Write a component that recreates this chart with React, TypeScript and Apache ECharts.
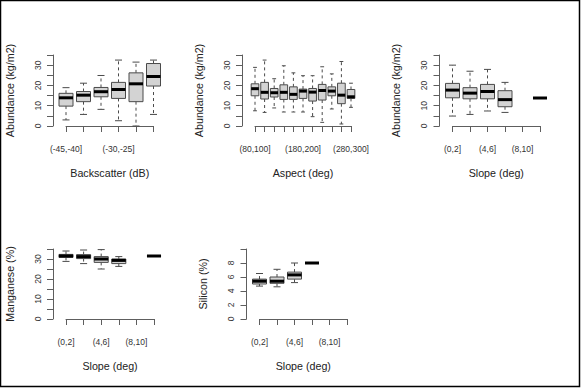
import React, { useEffect, useRef } from "react";
import * as echarts from "echarts";

// ---- Data (box stats: [lower whisker, Q1, median, Q3, upper whisker]) ----
const backscatterCats = ["(-45,-40]", "(-40,-35]", "(-35,-30]", "(-30,-25]", "(-25,-20]", "(-20,-15]"];
const backscatterStats = [
  [3.0, 9.8, 13.9, 16.1, 18.9],
  [5.7, 12.0, 15.2, 17.0, 21.1],
  [8.2, 14.4, 16.9, 19.0, 24.9],
  [2.6, 13.6, 18.0, 21.5, 32.5],
  [0.0, 12.0, 20.8, 26.2, 31.5],
  [5.7, 19.7, 24.4, 30.8, 32.5],
];
const backscatterShown = [0, 3];

const aspectCats = ["(80,100]", "(100,120]", "(120,140]", "(140,160]", "(160,180]", "(180,200]", "(200,220]", "(220,240]", "(240,260]", "(260,280]", "(280,300]"];
const aspectStats = [
  [7.5, 14.9, 18.4, 20.8, 28.9],
  [6.7, 13.3, 16.6, 21.5, 32.5],
  [8.9, 14.3, 16.4, 18.5, 23.3],
  [6.9, 13.1, 16.6, 20.3, 29.7],
  [6.9, 13.1, 15.6, 19.3, 26.2],
  [6.9, 13.6, 17.2, 18.2, 24.8],
  [4.6, 12.3, 16.7, 18.5, 24.8],
  [1.8, 12.8, 17.5, 20.5, 29.2],
  [8.4, 14.9, 17.2, 19.3, 25.7],
  [1.0, 11.0, 15.2, 21.1, 31.8],
  [9.2, 13.6, 14.4, 18.0, 21.1],
];
const aspectShown = [0, 5, 10];

const slopeCats = ["(0,2]", "(2,4]", "(4,6]", "(6,8]", "(8,10]", "(10,12]"];
const slopeShown = [0, 2, 4];
const slopeAbundanceStats = [
  [4.9, 13.9, 17.7, 21.0, 30.0],
  [5.7, 13.4, 16.2, 18.9, 27.0],
  [7.4, 13.4, 17.0, 20.5, 27.9],
  [6.7, 9.5, 13.0, 17.4, 21.5],
  null,
  [13.8, 13.8, 13.8, 13.8, 13.8],
];
const manganeseStats = [
  [28.8, 30.8, 31.5, 32.3, 34.0],
  [27.7, 30.2, 31.2, 32.2, 34.5],
  [25.0, 28.3, 30.0, 31.2, 34.7],
  [26.3, 27.7, 29.3, 30.0, 31.2],
  null,
  [31.5, 31.5, 31.5, 31.5, 31.5],
];
const siliconStats = [
  [4.7, 5.0, 5.4, 5.7, 6.5],
  [4.6, 5.1, 5.4, 6.0, 7.1],
  [5.2, 5.7, 6.3, 6.7, 8.0],
  [8.0, 8.0, 8.0, 8.0, 8.0],
  null,
  null,
];

const FONT = "Liberation Sans, Arial, sans-serif";
const AXIS_COLOR = "#5e5e5e";
const LABEL_COLOR = "#333";
const TITLE_COLOR = "#222";
const BOX_BORDER = "#4a4a4a";

type Panel = {
  cats: string[];
  stats: (number[] | null)[];
  shown: number[];
  xName: string;
  yName: string;
  yMax: number;
  yInterval: number;
  yLabelStep: number;
  grid: { left: number; top: number; width: number; height: number };
};

const panels: Panel[] = [
  { cats: backscatterCats, stats: backscatterStats, shown: backscatterShown, xName: "Backscatter (dB)", yName: "Abundance (kg/m2)", yMax: 35, yInterval: 5, yLabelStep: 10, grid: { left: 66, top: 55, width: 87.5, height: 71 } },
  { cats: aspectCats, stats: aspectStats, shown: aspectShown, xName: "Aspect (deg)", yName: "Abundance (kg/m2)", yMax: 35, yInterval: 5, yLabelStep: 10, grid: { left: 255, top: 55, width: 96, height: 71 } },
  { cats: slopeCats, stats: slopeAbundanceStats, shown: slopeShown, xName: "Slope (deg)", yName: "Abundance (kg/m2)", yMax: 35, yInterval: 5, yLabelStep: 10, grid: { left: 452.5, top: 55, width: 87.5, height: 71 } },
  { cats: slopeCats, stats: manganeseStats, shown: slopeShown, xName: "Slope (deg)", yName: "Manganese (%)", yMax: 35, yInterval: 5, yLabelStep: 10, grid: { left: 66, top: 249, width: 88, height: 70 } },
  { cats: slopeCats, stats: siliconStats, shown: slopeShown, xName: "Slope (deg)", yName: "Silicon (%)", yMax: 10, yInterval: 2, yLabelStep: 2, grid: { left: 259.5, top: 249, width: 87.5, height: 70 } },
];

function renderBox(params: any, api: any) {
  const x = api.value(0);
  const lo = api.value(1);
  const q1 = api.value(2);
  const med = api.value(3);
  const q3 = api.value(4);
  const hi = api.value(5);
  const band = api.size([1, 0])[0];
  const bw = band * 0.8;
  const cw = band * 0.4;
  const pLo = api.coord([x, lo]);
  const pQ1 = api.coord([x, q1]);
  const pMed = api.coord([x, med]);
  const pQ3 = api.coord([x, q3]);
  const pHi = api.coord([x, hi]);
  const cx = pMed[0];
  const children: any[] = [];
  const degenerate = hi - lo < 1e-9;
  if (!degenerate) {
    const dash = { stroke: BOX_BORDER, lineWidth: 1, lineDash: [3, 3] };
    const solid = { stroke: BOX_BORDER, lineWidth: 1 };
    children.push({ type: "line", shape: { x1: cx, y1: pQ3[1], x2: cx, y2: pHi[1] }, style: dash });
    children.push({ type: "line", shape: { x1: cx, y1: pQ1[1], x2: cx, y2: pLo[1] }, style: dash });
    children.push({ type: "line", shape: { x1: cx - cw / 2, y1: pHi[1], x2: cx + cw / 2, y2: pHi[1] }, style: solid });
    children.push({ type: "line", shape: { x1: cx - cw / 2, y1: pLo[1], x2: cx + cw / 2, y2: pLo[1] }, style: solid });
    children.push({
      type: "rect",
      shape: { x: cx - bw / 2, y: pQ3[1], width: bw, height: pQ1[1] - pQ3[1] },
      style: { fill: "#d3d3d3", stroke: BOX_BORDER, lineWidth: 1 },
    });
  }
  children.push({
    type: "line",
    shape: { x1: cx - bw / 2, y1: pMed[1], x2: cx + bw / 2, y2: pMed[1] },
    style: { stroke: "#000", lineWidth: 3 },
  });
  return { type: "group", children };
}

export default function App() {
  const ref = useRef<HTMLDivElement>(null);
  useEffect(() => {
    if (!ref.current) return;
    const chart = echarts.init(ref.current, null, { renderer: "svg" });
    const grid: any[] = [];
    const xAxis: any[] = [];
    const yAxis: any[] = [];
    const series: any[] = [];
    panels.forEach((p, i) => {
      grid.push({ ...p.grid, containLabel: false });
      xAxis.push({
        type: "category",
        gridIndex: i,
        data: p.cats,
        boundaryGap: false,
        offset: 3,
        name: p.xName,
        nameLocation: "middle",
        nameGap: 38,
        nameTextStyle: { fontFamily: FONT, fontSize: 10.7, color: TITLE_COLOR },
        axisLine: { show: true, lineStyle: { color: AXIS_COLOR, width: 1 } },
        axisTick: { show: true, interval: 0, length: 6, lineStyle: { color: AXIS_COLOR } },
        axisLabel: {
          interval: (idx: number) => p.shown.includes(idx),
          margin: 15,
          fontFamily: FONT,
          fontSize: 8.5,
          color: LABEL_COLOR,
          showMinLabel: true,
          showMaxLabel: true,
        },
        splitLine: { show: false },
      });
      yAxis.push({
        type: "value",
        gridIndex: i,
        min: 0,
        max: p.yMax,
        interval: p.yInterval,
        offset: 13,
        name: p.yName,
        nameLocation: "middle",
        nameGap: 38,
        nameTextStyle: { fontFamily: FONT, fontSize: 10.7, color: TITLE_COLOR },
        axisLine: { show: true, lineStyle: { color: AXIS_COLOR, width: 1 } },
        axisTick: { show: true, length: 6, lineStyle: { color: AXIS_COLOR } },
        axisLabel: {
          rotate: 90,
          margin: 11,
          fontFamily: FONT,
          fontSize: 8.5,
          color: LABEL_COLOR,
          formatter: (v: number) => (v % p.yLabelStep === 0 && v < p.yMax - 1e-9 ? String(v) : ""),
        },
        splitLine: { show: false },
      });
      const data = p.stats
        .map((s, idx) => (s ? [idx, ...s] : null))
        .filter((d) => d !== null);
      series.push({
        type: "custom",
        xAxisIndex: i,
        yAxisIndex: i,
        renderItem: renderBox,
        encode: { x: 0, y: [1, 2, 3, 4, 5] },
        data,
        silent: true,
      });
    });
    chart.setOption({
      animation: false,
      backgroundColor: "#fff",
      grid,
      xAxis,
      yAxis,
      series,
      graphic: [
        {
          type: "rect",
          shape: { x: 0.5, y: 0.5, width: 579, height: 386 },
          style: { fill: "none", stroke: "#000", lineWidth: 1.5 },
          silent: true,
        },
      ],
    });
    return () => chart.dispose();
  }, []);
  return (
    <div
      ref={ref}
      style={{ position: "absolute", left: 0, top: 0, width: 581, height: 388 }}
    />
  );
}
